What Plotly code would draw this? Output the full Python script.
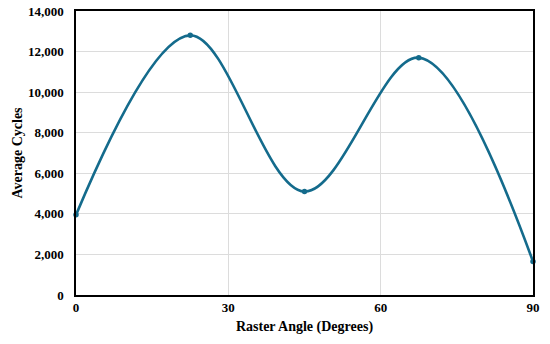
import plotly.graph_objects as go

angles = [0, 22.5, 45, 67.5, 90]
cycles = [3950, 12800, 5100, 11700, 1650]
x_ticks = [0, 30, 60, 90]
y_ticks = [0, 2000, 4000, 6000, 8000, 10000, 12000, 14000]

font_family = "Liberation Serif, Times New Roman, serif"
color = "#146B8C"

fig = go.Figure()
fig.add_trace(go.Scatter(
    x=angles, y=cycles, mode="lines+markers",
    line=dict(color=color, width=2.6, shape="spline", smoothing=1.0),
    marker=dict(color=color, size=5.5),
    cliponaxis=False, showlegend=False,
))

axis_common = dict(
    showline=True, linecolor="black", linewidth=1.5, mirror=True,
    showgrid=True, gridcolor="#DCDCDC", gridwidth=1,
    ticks="", zeroline=False, automargin=False,
    tickfont=dict(family=font_family, size=13, color="black", weight="bold"),
)

fig.update_layout(
    width=550, height=344,
    margin=dict(l=76, r=17, t=11, b=49),
    paper_bgcolor="white", plot_bgcolor="white",
    font=dict(family=font_family, color="black"),
    xaxis=dict(
        range=[0, 90], tickvals=x_ticks, ticklabelstandoff=0,
        title=dict(text="<b>Raster Angle (Degrees)</b>",
                   font=dict(family=font_family, size=14, color="black"), standoff=7),
        **axis_common,
    ),
    yaxis=dict(
        range=[0, 14000], tickvals=y_ticks, tickformat=",d", ticklabelstandoff=8,
        title=dict(text="<b>Average Cycles</b>",
                   font=dict(family=font_family, size=14, color="black"), standoff=2),
        **axis_common,
    ),
)

# remove the default 8px page margin so the figure fills the window exactly
fig.write_html("out.html",
               config={"displayModeBar": False},
               post_script="document.body.style.margin='0';document.body.style.overflow='hidden';")
